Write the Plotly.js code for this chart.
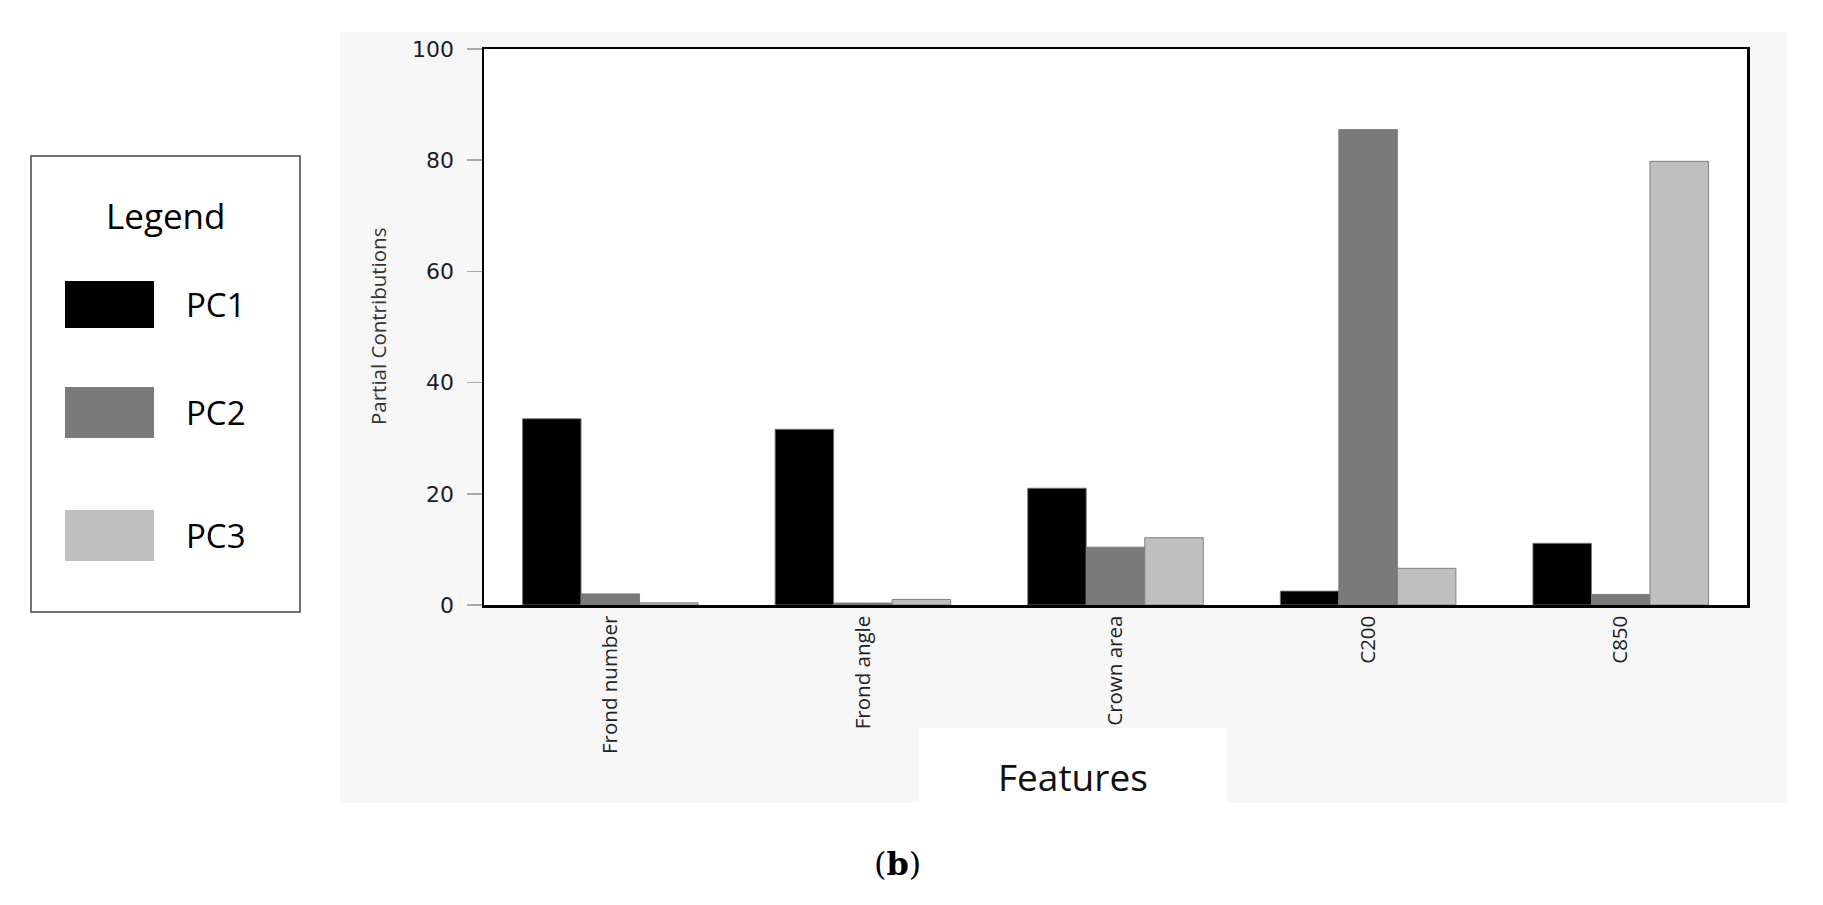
<!DOCTYPE html>
<html>
<head>
<meta charset="utf-8">
<script src="https://cdn.plot.ly/plotly-3.0.1.min.js"></script>
<style>
  html, body { margin: 0; padding: 0; background: #ffffff; }
  #chart { width: 1823px; height: 905px; }
</style>
</head>
<body>
<div id="chart"></div>
<script>
// Dados
const categories = ["Frond number", "Frond angle", "Crown area", "C200", "C850"];
const seriesNames = ["PC1", "PC2", "PC3"];
const pc1 = [33.5, 31.6, 21.0, 2.5, 11.1];
const pc2 = [2.0, 0.35, 10.4, 85.5, 1.9];
const pc3 = [0.4, 1.0, 12.1, 6.6, 79.8];
const seriesColors = ["#000000", "#7a7a7a", "#bfbfbf"];
const yTicks = [0, 20, 40, 60, 80, 100];

// Área do gráfico em pixels
const W = 1823, H = 905;
const L = 484, R = 1747, T = 49, B = 605;
const px = (x) => (x - L) / (R - L);
const py = (y) => (B - y) / (B - T);

const values = [pc1, pc2, pc3];
const traces = seriesNames.map((name, i) => ({
  type: "bar",
  name: name,
  x: categories,
  y: values[i],
  marker: { color: seriesColors[i], line: { color: "rgba(120,120,120,0.9)", width: 1 } },
  hoverinfo: "none",
}));

// Retângulos de fundo e legenda manual
const shapes = [
  // painel cinza
  { type: "rect", xref: "paper", yref: "paper", layer: "below",
    x0: px(340), x1: px(1787), y0: py(32), y1: py(803),
    fillcolor: "#f7f7f7", line: { width: 0 } },
  // área branca do gráfico
  { type: "rect", xref: "paper", yref: "paper", layer: "below",
    x0: 0, x1: 1, y0: 0, y1: 1, fillcolor: "#ffffff", line: { width: 0 } },
  // caixa branca do título "Features"
  { type: "rect", xref: "paper", yref: "paper", layer: "below",
    x0: px(919), x1: px(1227), y0: py(728), y1: py(806),
    fillcolor: "#ffffff", line: { width: 0 } },
  // moldura da legenda
  { type: "rect", xref: "paper", yref: "paper",
    x0: px(31), x1: px(300), y0: py(156), y1: py(612),
    fillcolor: "#ffffff", line: { color: "#444444", width: 1.5 } },
];

const swatchTops = [281, 387, 510];
const swatchBottoms = [328, 438, 561];
seriesNames.forEach((name, i) => {
  shapes.push({
    type: "rect", xref: "paper", yref: "paper",
    x0: px(65), x1: px(154), y0: py(swatchTops[i]), y1: py(swatchBottoms[i]),
    fillcolor: seriesColors[i], line: { width: 0 },
  });
});

const annotations = [
  { text: "Legend", xref: "paper", yref: "paper", x: px(165), y: py(215),
    xanchor: "center", yanchor: "middle", showarrow: false,
    font: { family: "Open Sans, sans-serif", size: 35, color: "#000" } },
  { text: "Partial Contributions", xref: "paper", yref: "paper", x: px(378), y: py(327),
    xanchor: "center", yanchor: "middle", textangle: -90, showarrow: false,
    font: { family: "Open Sans, sans-serif", size: 20.5, color: "#333" } },
  { text: "Features", xref: "paper", yref: "paper", x: px(1073), y: py(776),
    xanchor: "center", yanchor: "middle", showarrow: false,
    font: { family: "Open Sans, sans-serif", size: 37, color: "#111" } },
  { text: "(<b>b</b>)", xref: "paper", yref: "paper", x: px(897), y: py(864),
    xanchor: "center", yanchor: "middle", showarrow: false,
    font: { family: "DejaVu Serif, serif", size: 32, color: "#000" } },
];
seriesNames.forEach((name, i) => {
  annotations.push({
    text: name, xref: "paper", yref: "paper", x: px(184),
    y: py((swatchTops[i] + swatchBottoms[i]) / 2),
    xanchor: "left", yanchor: "middle", showarrow: false,
    font: { family: "Open Sans, sans-serif", size: 33, color: "#000" },
  });
});

const layout = {
  width: W,
  height: H,
  margin: { l: L, r: W - R, t: T, b: H - B },
  paper_bgcolor: "#ffffff",
  plot_bgcolor: "rgba(0,0,0,0)",
  showlegend: false,
  barmode: "group",
  bargap: 0.305,
  bargroupgap: 0,
  xaxis: {
    type: "category",
    range: [-0.5, categories.length - 0.5],
    tickangle: -90,
    ticks: "",
    showgrid: false,
    showline: true,
    linecolor: "#000",
    linewidth: 2.5,
    mirror: true,
    ticklabelstandoff: 0,
    tickfont: { family: "Open Sans, sans-serif", size: 20.5, color: "#222" },
  },
  yaxis: {
    range: [0, 100],
    tickvals: yTicks,
    ticks: "outside",
    ticklen: 15,
    tickwidth: 1.5,
    tickcolor: "#aaaaaa",
    showgrid: false,
    zeroline: false,
    showline: true,
    linecolor: "#000",
    linewidth: 2.5,
    mirror: true,
    ticklabelstandoff: 8,
    tickfont: { family: "DejaVu Sans, sans-serif", size: 22, color: "#1c1c2c" },
  },
  shapes: shapes,
  annotations: annotations,
};

Plotly.newPlot("chart", traces, layout, { staticPlot: true, displayModeBar: false });
</script>
</body>
</html>
